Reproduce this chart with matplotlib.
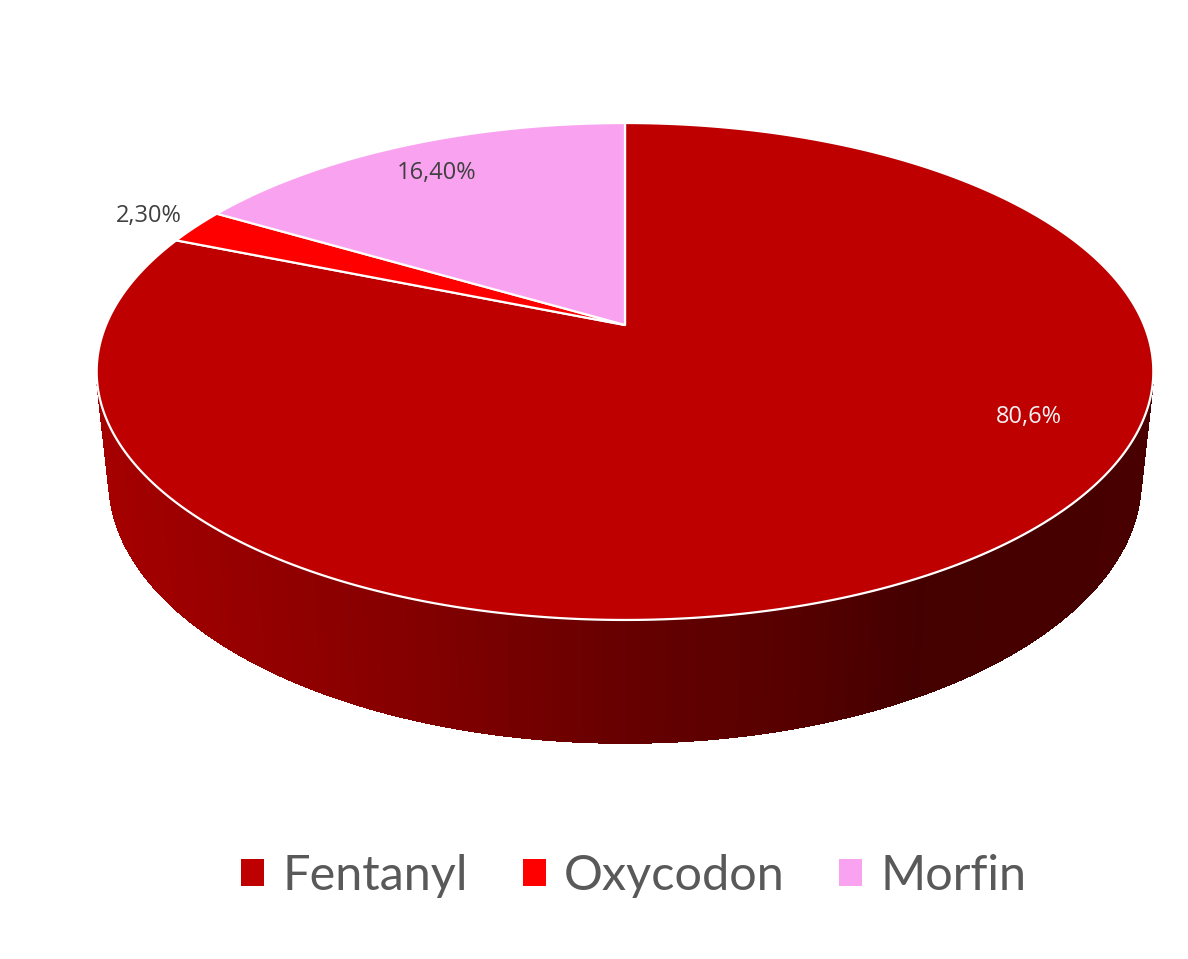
import numpy as np
import matplotlib
matplotlib.use("Agg")
import matplotlib.pyplot as plt
from matplotlib.patches import Polygon, Patch
from matplotlib.collections import PolyCollection
from matplotlib.colors import to_rgb

# ---- data ----
categories = ["Fentanyl", "Oxycodon", "Morfin"]
values = [80.6, 2.3, 16.4]
value_labels = ["80,6%", "2,30%", "16,40%"]
colors = ["#BE0000", "#FF0000", "#F9A3F0"]

# ---- layout / style ----
W, H = 1188, 959
CX, CY = 625.0, 325.0          # projected pie centre (pixels)
FOC = 2460.0                   # focal length (pixels)
DIST = 4.74                    # camera distance (disk radii)
SIN_T = 0.462                  # sine of view elevation
COS_T = np.sqrt(1 - SIN_T ** 2)
DEPTH = 0.238                  # pie thickness (disk radii)
# label anchor: (angle in degrees or None for mid-angle, radius)
label_anchor = [(-26.3, 0.81), (None, 1.12), (None, 0.83)]
label_colors = ["#F2F2F2", "#404040", "#404040"]
# side shading stops (normalised x, brightness factor)
shade_x = [0.0, 0.12, 0.29, 0.5, 0.67, 0.78, 1.0]
shade_f = [0.87, 0.80, 0.70, 0.54, 0.45, 0.36, 0.38]

fig = plt.figure(figsize=(W / 100, H / 100), dpi=100)
ax = fig.add_axes([0, 0, 1, 1])
ax.set_xlim(0, W)
ax.set_ylim(H, 0)
ax.axis("off")


def proj(u, w, h=0.0):
    u = np.asarray(u, float)
    w = np.asarray(w, float)
    yc = h * COS_T + w * SIN_T
    zc = DIST - h * SIN_T + w * COS_T
    return CX + FOC * u / zc, CY - FOC * yc / zc


total = float(np.sum(values))
cum = np.concatenate([[0.0], np.cumsum(values)]) / total
theta1 = 90.0 - cum[:-1] * 360.0      # clockwise from 12 o'clock
theta2 = 90.0 - cum[1:] * 360.0


def wedge_index(phi_deg):
    a = (90.0 - phi_deg) % 360.0 / 360.0
    for i in range(len(values)):
        if cum[i] <= a < cum[i + 1]:
            return i
    return len(values) - 1


# ---- side wall ----
lim = np.arcsin(1.0 / (DIST * COS_T))
phis = np.linspace(np.pi + lim, 2 * np.pi - lim, 500)
xt, yt = proj(np.cos(phis), np.sin(phis), 0.0)
xb, yb = proj(np.cos(phis), np.sin(phis), -DEPTH)
xmin, xmax = xt.min(), xt.max()
polys, fcs = [], []
for i in range(len(phis) - 1):
    polys.append([(xt[i], yt[i]), (xt[i + 1], yt[i + 1]),
                  (xb[i + 1], yb[i + 1]), (xb[i], yb[i])])
    xm = 0.5 * (xt[i] + xt[i + 1])
    f = np.interp((xm - xmin) / (xmax - xmin), shade_x, shade_f)
    base = np.array(to_rgb(colors[wedge_index(np.degrees(0.5 * (phis[i] + phis[i + 1])))]))
    fcs.append(tuple(np.clip(base * f, 0, 1)))
side = PolyCollection(polys, facecolors=fcs, edgecolors=fcs, linewidths=0.8,
                      antialiased=False, zorder=1)
ax.add_collection(side)

# ---- top face wedges ----
for i in range(len(values)):
    n = max(int(abs(theta2[i] - theta1[i]) * 3), 4)
    ang = np.radians(np.linspace(theta1[i], theta2[i], n))
    px, py = proj(np.cos(ang), np.sin(ang), 0.0)
    ox, oy = proj(0.0, 0.0, 0.0)
    verts = np.column_stack([np.concatenate([[ox], px]), np.concatenate([[oy], py])])
    ax.add_patch(Polygon(verts, closed=True, facecolor=colors[i], edgecolor="white",
                         linewidth=1.6, joinstyle="round", zorder=2))

# ---- data labels ----
for i in range(len(values)):
    a, r = label_anchor[i]
    if a is None:
        a = 0.5 * (theta1[i] + theta2[i])
    a = np.radians(a)
    lx, ly = proj(r * np.cos(a), r * np.sin(a), 0.0)
    ax.text(float(lx), float(ly), value_labels[i], ha="center", va="center",
            fontsize=17, color=label_colors[i], family=["Open Sans", "DejaVu Sans"],
            zorder=5)

# ---- legend ----
handles = [Patch(facecolor=c, edgecolor="none") for c in colors]
ax.legend(handles, categories, loc="center", bbox_to_anchor=(634, 876),
          bbox_transform=ax.transData, ncol=3, frameon=False,
          prop={"family": ["Lato", "DejaVu Sans"], "size": 35},
          labelcolor="#595959", handlelength=0.47, handleheight=0.47,
          handletextpad=0.38, columnspacing=1.12, borderaxespad=0, borderpad=0)

fig.savefig("out.png", dpi=100, facecolor="white")
